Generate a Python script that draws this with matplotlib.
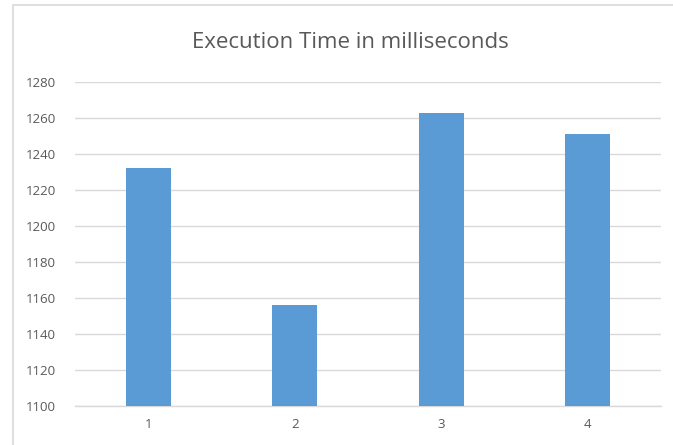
import matplotlib
matplotlib.use("Agg")
import matplotlib.pyplot as plt
from matplotlib.patches import Rectangle

runs = ["1", "2", "3", "4"]
exec_ms = [1232, 1156, 1263, 1251]
y_ticks = [1100, 1120, 1140, 1160, 1180, 1200, 1220, 1240, 1260, 1280]

plt.rcParams['font.family'] = ['Open Sans', 'DejaVu Sans']

W, H = 673, 445
fig = plt.figure(figsize=(W / 100, H / 100), dpi=100)

# light frame around the chart area
fig.patches.append(Rectangle((12.5 / W, -0.1), 1.2, 1 - 5.5 / H + 0.1,
                             transform=fig.transFigure, fill=False,
                             edgecolor="#d9d9d9", linewidth=1.2))

ax = fig.add_axes([75 / W, 1 - 406 / H, (661 - 75) / W, (406 - 82) / H])
x = list(range(len(runs)))
ax.bar(x, exec_ms, width=0.31, color="#5b9bd5", zorder=3)

ax.set_xlim(-0.5, len(runs) - 0.5)
ax.set_ylim(1100, 1280)
ax.set_xticks(x)
ax.set_xticklabels(runs)
ax.set_yticks(y_ticks)
ax.yaxis.grid(True, color="#d9d9d9", linewidth=1, zorder=0)
ax.tick_params(length=0, labelsize=9.5, colors="#595959")
ax.tick_params(axis="y", pad=14)
ax.tick_params(axis="x", pad=9)
for s in ["top", "right", "left"]:
    ax.spines[s].set_visible(False)
ax.spines["bottom"].set_color("#d9d9d9")
ax.spines["bottom"].set_linewidth(1)

fig.text(350 / W, 1 - 42 / H, "Execution Time in milliseconds",
         ha="center", va="center", fontsize=16, color="#595959")

fig.savefig("out.png", dpi=100)
